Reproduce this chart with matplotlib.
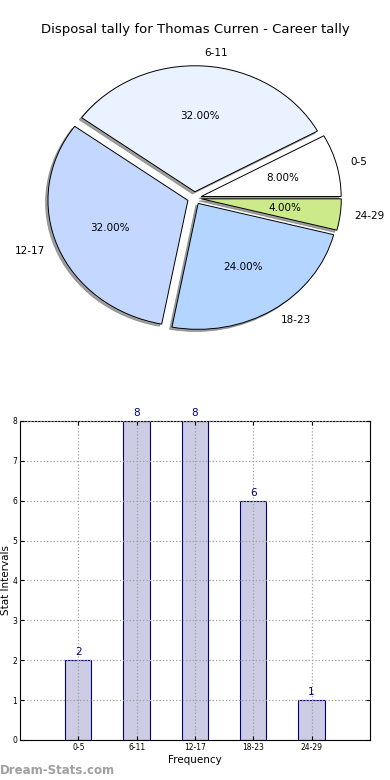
import matplotlib
matplotlib.use("Agg")
import matplotlib.pyplot as plt

# data -------------------------------------------------------
title = "Disposal tally for Thomas Curren - Career tally"
bins = ["0-5", "6-11", "12-17", "18-23", "24-29"]
counts = [2, 8, 8, 6, 1]
pie_colors = ["#ffffff", "#eaf1ff", "#c4d8ff", "#b3d5ff", "#cdea8a"]
yticks = [0, 1, 2, 3, 4, 5, 6, 7, 8]

fig = plt.figure(figsize=(3.9, 7.8), dpi=100)

# pie ---------------------------------------------------------
ax1 = fig.add_axes([0.05, 0.5442, 0.897, 0.4038])
ax1.pie(counts, labels=bins, colors=pie_colors, autopct="%.2f%%",
        explode=[0.05] * len(counts),
        shadow={"ox": -0.012, "oy": -0.012, "facecolor": "#808080",
                "edgecolor": "#808080", "alpha": 0.75},
        startangle=0,
        wedgeprops=dict(edgecolor="black", linewidth=0.7),
        textprops=dict(fontsize=7.5))
ax1.set_aspect("auto")
ax1.set_xlim(-1.25, 1.25)
ax1.set_ylim(-1.25, 1.25)
fig.text(0.5, 1 - 30 / 780, title, ha="center", va="center", fontsize=9.5)

# bars --------------------------------------------------------
ax2 = fig.add_axes([0.0513, 0.0513, 0.897, 0.409])
x = range(len(bins))
ax2.bar(x, counts, width=0.45, color="#cccce4", edgecolor="#000080",
        linewidth=0.8, zorder=1)
for i, c in zip(x, counts):
    ax2.text(i, c + 0.08, str(c), ha="center", va="bottom",
             fontsize=7.5, color="#000080")
ax2.set_xlim(-1, 5)
ax2.set_ylim(0, 8)
ax2.set_xticks(list(x))
ax2.set_xticklabels(bins)
ax2.set_yticks(yticks)
ax2.tick_params(labelsize=5.5, direction="in", length=3, top=True, right=True,
                pad=2)
ax2.grid(True, linestyle=":", color="#a0a0a0", linewidth=0.9, zorder=3)
ax2.set_axisbelow(False)
ax2.set_xlabel("Frequency", fontsize=7.5, labelpad=2)
ax2.set_ylabel("Stat Intervals", fontsize=7.5, labelpad=1)
for s in ax2.spines.values():
    s.set_linewidth(0.8)

fig.text(0.0, 1 - 770 / 780, "Dream-Stats.com", ha="left", va="center",
         fontsize=8.5, color="#a0a0a0", fontweight="bold")

fig.savefig("out.png", dpi=100)
